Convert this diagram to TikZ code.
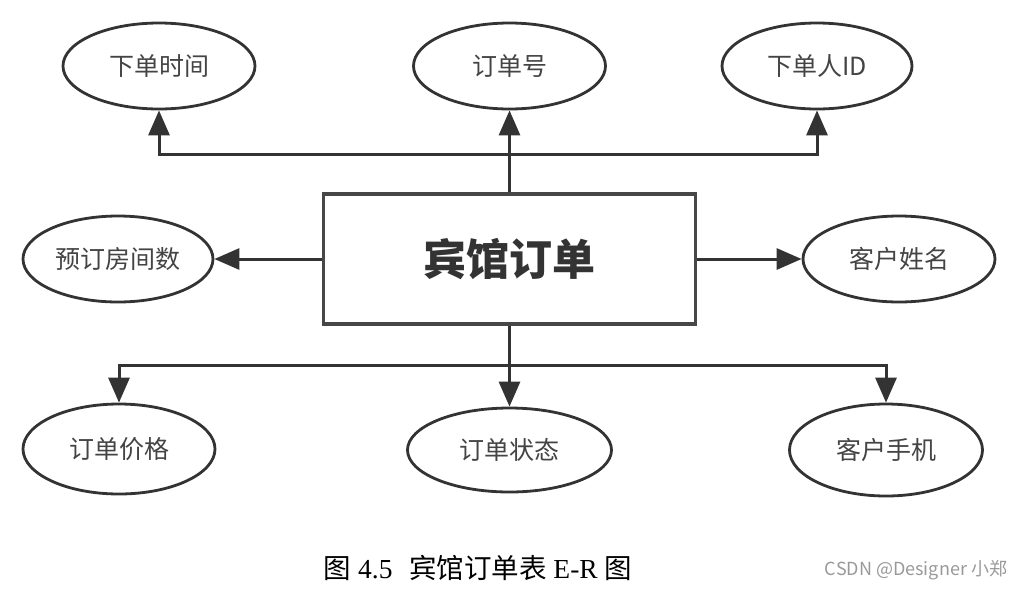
\documentclass[tikz,border=0pt]{standalone}
\usepackage{fontspec}
\setmainfont{Liberation Serif}
\newfontfamily\cjk{Noto Sans CJK SC}
\usetikzlibrary{shapes.geometric,arrows.meta}
\definecolor{linec}{HTML}{333333}
\definecolor{textc}{HTML}{444444}
\begin{document}
\begin{tikzpicture}[x=1pt,y=-1pt,
  attr/.style={ellipse,draw=linec,line width=2.8pt,fill=white,inner sep=0pt,
    text=textc,font=\cjk\fontsize{25}{30}\selectfont},
  entity/.style={rectangle,draw=black!72,line width=3.5pt,inner sep=0pt,
    minimum width=372pt,minimum height=130pt,text=linec,
    font=\cjk\bfseries\fontsize{43}{50}\selectfont},
  conn/.style={draw=linec,line width=3pt},
  arr/.style={conn,-{Triangle[length=25pt,width=21pt]}}]
\useasboundingbox (0,0) rectangle (1025,590);
\node[entity] (c) at (509.5,259) {宾馆订单};
\node[attr,minimum width=192pt,minimum height=86pt] (a1) at (159,66) {下单时间};
\node[attr,minimum width=192pt,minimum height=86pt] (a2) at (509.5,66) {订单号};
\node[attr,minimum width=190pt,minimum height=86pt] (a3) at (817,66) {下单人ID};
\node[attr,minimum width=190pt,minimum height=86pt] (l) at (118,259) {预订房间数};
\node[attr,minimum width=192pt,minimum height=86pt] (r) at (899,259) {客户姓名};
\node[attr,minimum width=192pt,minimum height=90pt] (b1) at (119,449) {订单价格};
\node[attr,minimum width=204pt,minimum height=84pt] (b2) at (509.5,450) {订单状态};
\node[attr,minimum width=193pt,minimum height=92pt] (b3) at (886,450) {客户手机};
\coordinate (jt) at (509.5,154);
\coordinate (jb) at (509.5,365);
% top
\draw[arr] (c.north) -- (a2.south);
\draw[arr] (jt) -| (a1.south);
\draw[arr] (jt) -| (a3.south);
% sides
\draw[arr] (c.west) -- (l.east);
\draw[arr] (c.east) -- (r.west);
% bottom
\draw[conn] (c.south) -- (jb);
\draw[arr] (jb) -- (b2.north);
\draw[arr] (jb) -| (b1.north);
\draw[arr] (jb) -| (b3.north);
% caption
\node[font=\fontsize{27.5}{32}\selectfont,inner sep=0pt] (cap) at (478,568)
  {{\cjk 图} 4.5\hspace{0.6em}{\cjk 宾馆订单表} E-R {\cjk 图}};
\node[font=\cjk\fontsize{18}{22}\selectfont,text=black!40,inner sep=0pt] (wm) at (916,570)
  {CSDN @Designer 小郑};
\end{tikzpicture}
\end{document}
